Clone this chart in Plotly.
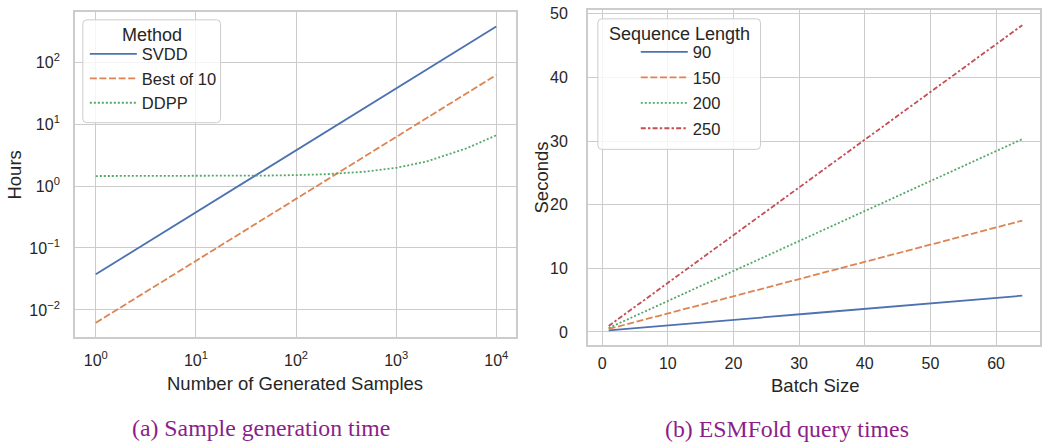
import plotly.graph_objects as go

# ---- Data: (a) Sample generation time ----
n_samples = [1, 2, 5, 10, 20, 50, 100, 200, 500, 1000, 2000, 5000, 10000]
svdd_hours = [0.0376, 0.0752, 0.188, 0.376, 0.752, 1.88, 3.76, 7.52, 18.8, 37.6, 75.2, 188, 376]
best10_hours = [0.0062, 0.0124, 0.031, 0.062, 0.124, 0.31, 0.62, 1.24, 3.1, 6.2, 12.4, 31, 62]
ddpp_hours = [1.45, 1.45, 1.45, 1.455, 1.46, 1.475, 1.50, 1.55, 1.71, 1.97, 2.48, 4.03, 6.6]
methods = ["SVDD", "Best of 10", "DDPP"]

# ---- Data: (b) ESMFold query times ----
batch_sizes = [1, 2, 4, 8, 16, 32, 64]
sec_90 = [0.25, 0.34, 0.51, 0.86, 1.55, 2.94, 5.7]
sec_150 = [0.47, 0.74, 1.28, 2.36, 4.52, 8.84, 17.5]
sec_200 = [0.62, 1.09, 2.03, 3.92, 7.69, 15.2, 30.3]
sec_250 = [0.95, 1.70, 3.20, 6.20, 12.2, 24.2, 48.2]
seq_lengths = ["90", "150", "200", "250"]

# tick labels
log_x_vals = [1, 10, 100, 1000, 10000]
log_x_text = ["10<sup>0</sup>", "10<sup>1</sup>", "10<sup>2</sup>", "10<sup>3</sup>", "10<sup>4</sup>"]
log_y_vals = [0.01, 0.1, 1, 10, 100]
log_y_text = ["10<sup>\u22122</sup>", "10<sup>\u22121</sup>", "10<sup>0</sup>", "10<sup>1</sup>", "10<sup>2</sup>"]
lin_x_vals = [0, 10, 20, 30, 40, 50, 60]
lin_y_vals = [0, 10, 20, 30, 40, 50]

colors = ["#4C72B0", "#DD8452", "#55A868", "#C44E52"]
dashes = ["solid", "7px,2.6px", "2px,2px", "5px,2.2px,2.4px,2.2px"]

W, H = 1042, 443
LW = 1.8
TXT = "#262626"
GRID = "#cccccc"


def px(x):
    return x / W


def py(y):
    return 1 - y / H


def rounded_box(x0, y0, x1, y1, r=4):
    rx, ry = r / W, r / H
    X0, X1 = px(x0), px(x1)
    Yt, Yb = py(y0), py(y1)
    return (f"M{X0 + rx},{Yt} L{X1 - rx},{Yt} Q{X1},{Yt} {X1},{Yt - ry} "
            f"L{X1},{Yb + ry} Q{X1},{Yb} {X1 - rx},{Yb} "
            f"L{X0 + rx},{Yb} Q{X0},{Yb} {X0},{Yb + ry} "
            f"L{X0},{Yt - ry} Q{X0},{Yt} {X0 + rx},{Yt} Z")


fig = go.Figure()

for i, (name, ys) in enumerate(zip(methods, [svdd_hours, best10_hours, ddpp_hours])):
    fig.add_trace(go.Scatter(
        x=n_samples, y=ys, mode="lines", name=name,
        line=dict(color=colors[i], width=LW, dash=dashes[i]),
        xaxis="x", yaxis="y", legend="legend", legendgroup="a" + str(i),
    ))

for i, (name, ys) in enumerate(zip(seq_lengths, [sec_90, sec_150, sec_200, sec_250])):
    fig.add_trace(go.Scatter(
        x=batch_sizes, y=ys, mode="lines", name=name,
        line=dict(color=colors[i], width=LW, dash=dashes[i]),
        xaxis="x2", yaxis="y2", legend="legend2", legendgroup="b" + str(i),
    ))

axis_common = dict(
    showline=True, mirror=True, linecolor=GRID, linewidth=1.5,
    showgrid=True, gridcolor=GRID, gridwidth=1.2,
    zeroline=False, ticks="", tickfont=dict(family="Liberation Sans, Arial", size=16, color=TXT),
)

fig.update_layout(
    width=W, height=H,
    margin=dict(l=0, r=0, t=0, b=0),
    paper_bgcolor="white", plot_bgcolor="white",
    font=dict(family="Liberation Sans, Arial", color=TXT),
    xaxis=dict(domain=[px(75), px(517)], type="log", range=[-0.209, 4.197],
               tickvals=log_x_vals, ticktext=log_x_text, anchor="y",
               ticklabelstandoff=8, **axis_common),
    yaxis=dict(domain=[py(336), py(7)], type="log", range=[-2.44, 2.81],
               tickvals=log_y_vals, ticktext=log_y_text, anchor="x",
               ticklabelstandoff=10, **axis_common),
    xaxis2=dict(domain=[px(589), 1.0], range=[-2.17, 66.7],
                tickvals=lin_x_vals, anchor="y2", ticklabelstandoff=3, **axis_common),
    yaxis2=dict(domain=[py(344), py(5)], range=[-2.07, 50.6],
                tickvals=lin_y_vals, anchor="x2", ticklabelstandoff=15, **axis_common),
    legend=dict(
        x=px(85), y=py(54 - 22), xanchor="left", yanchor="top",
        bgcolor="rgba(0,0,0,0)", borderwidth=0,
        font=dict(size=16.5, color=TXT),
        traceorder="grouped", tracegroupgap=0, itemwidth=47,
    ),
    legend2=dict(
        x=px(637), y=py(53 - 23), xanchor="left", yanchor="top",
        bgcolor="rgba(0,0,0,0)", borderwidth=0,
        font=dict(size=16.5, color=TXT),
        traceorder="grouped", tracegroupgap=1, itemwidth=47,
    ),
    showlegend=True,
)

# legend frames (drawn above the lines, below the legend entries)
for (x0, y0, x1, y1) in [(83, 15, 221, 119), (599, 14, 762, 146)]:
    fig.add_shape(type="path", path=rounded_box(x0, y0, x1, y1), xref="paper", yref="paper",
                  fillcolor="rgba(255,255,255,0.8)", line=dict(color=GRID, width=1), layer="above")

ann_font = dict(family="Liberation Sans, Arial", size=18.5, color=TXT)
leg_title_font = dict(family="Liberation Sans, Arial", size=18, color=TXT)
cap_font = dict(family="Liberation Serif, Times New Roman", size=23.8, color="#8B1E8B")
annotations = [
    dict(text="Method", x=px(152), y=py(30), font=leg_title_font),
    dict(text="Sequence Length", x=px(680.5), y=py(29), font=leg_title_font),
    dict(text="Number of Generated Samples", x=px(296), y=py(383), font=ann_font),
    dict(text="Hours", x=px(15), y=py(171.5), textangle=-90, font=ann_font),
    dict(text="Batch Size", x=px(816.5), y=py(385), font=ann_font),
    dict(text="Seconds", x=px(543), y=py(174.5), textangle=-90, font=ann_font),
    dict(text="(a) Sample generation time", x=px(261.5), y=py(428), font=cap_font),
    dict(text="(b) ESMFold query times", x=px(789), y=py(429), font=cap_font),
]
for a in annotations:
    fig.add_annotation(xref="paper", yref="paper", xanchor="center", yanchor="middle",
                       showarrow=False, **a)

fig.write_html(
    "out.html",
    config={"displayModeBar": False},
    post_script="document.body.style.margin='0';document.body.style.overflow='hidden';",
)
